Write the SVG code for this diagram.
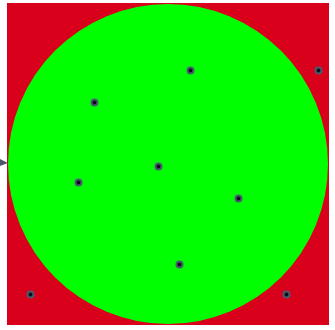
<svg xmlns="http://www.w3.org/2000/svg" width="335" height="330" viewBox="0 0 335 330">
<style>
.dot{fill:#0d0d1a;stroke:#4a5a6e;stroke-width:2}
</style>
<rect x="0" y="0" width="335" height="330" fill="#ffffff"/>
<g id="region">
<rect x="7" y="3" width="322" height="322" fill="#d9001b"/>
<circle cx="168" cy="164" r="160" fill="#00ff00"/>
</g>
<g id="connectors">
<polygon points="0,159 8,163 0,166" fill="#4a5868"/>
</g>
<g id="points">
<circle id="p1" class="dot" cx="190.5" cy="70.5" r="3"/>
<circle id="p2" class="dot" cx="94.5" cy="102.5" r="3"/>
<circle id="p3" class="dot" cx="318.5" cy="70.5" r="3"/>
<circle id="p4" class="dot" cx="158.5" cy="166.5" r="3"/>
<circle id="p5" class="dot" cx="78.5" cy="182.5" r="3"/>
<circle id="p6" class="dot" cx="238.5" cy="198.5" r="3"/>
<circle id="p7" class="dot" cx="179.5" cy="264.5" r="3"/>
<circle id="p8" class="dot" cx="30.5" cy="294.5" r="3"/>
<circle id="p9" class="dot" cx="286.5" cy="294.5" r="3"/>
</g>
</svg>
